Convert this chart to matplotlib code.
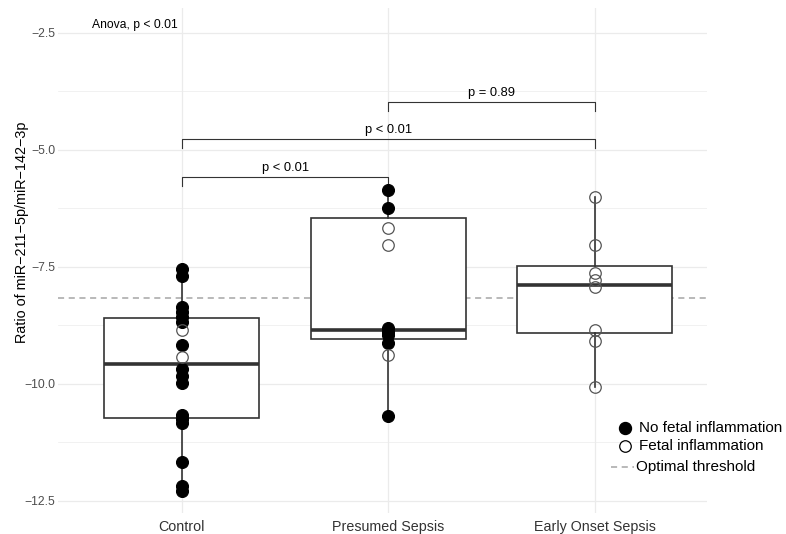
import matplotlib
matplotlib.use('Agg')
import matplotlib.pyplot as plt
from matplotlib.lines import Line2D

plt.rcParams['font.family'] = ['Liberation Sans', 'DejaVu Sans']

categories = ['Control', 'Presumed Sepsis', 'Early Onset Sepsis']

# individual points: filled = no fetal inflammation, open = fetal inflammation
control_no_fi = [-7.55, -7.70, -8.35, -8.46, -8.57, -8.67, -9.17, -9.67, -9.82,
                 -9.97, -10.66, -10.75, -10.84, -11.66, -12.19, -12.28]
control_fi = [-8.85, -9.42]
presumed_no_fi = [-5.85, -6.25, -8.81, -8.88, -8.95, -9.13, -10.68]
presumed_fi = [-6.67, -7.03, -9.37]
early_no_fi = []
early_fi = [-6.01, -7.04, -7.62, -7.78, -7.93, -8.85, -9.08, -10.06]

# box statistics
box_whislo = [-12.26, -10.68, -10.06]
box_q1 = [-10.73, -9.04, -8.92]
box_med = [-9.57, -8.85, -7.88]
box_q3 = [-8.60, -6.45, -7.48]
box_whishi = [-7.55, -5.85, -6.01]

threshold = -8.16

comparisons = [(1, 2, 'p < 0.01'), (1, 3, 'p < 0.01'), (2, 3, 'p = 0.89')]
bracket_y = [-5.58, -4.77, -3.97]
anova_label = 'Anova, p < 0.01'

y_ticks = [-12.5, -10.0, -7.5, -5.0, -2.5]
y_minor = [-11.25, -8.75, -6.25, -3.75]

W, H = 786, 534
fig = plt.figure(figsize=(W / 100, H / 100), dpi=100)
L, R, T, B = 58, 707, 8, 513
ax = fig.add_axes([L / W, 1 - B / H, (R - L) / W, (B - T) / H])

stats = []
for i in range(3):
    stats.append(dict(med=box_med[i], q1=box_q1[i], q3=box_q3[i],
                      whislo=box_whislo[i], whishi=box_whishi[i], fliers=[]))
ax.bxp(stats, positions=[1, 2, 3], widths=0.75, showcaps=False, patch_artist=True,
       manage_ticks=False,
       boxprops=dict(facecolor='white', edgecolor='#333333', lw=1.2),
       whiskerprops=dict(color='#333333', lw=1.2),
       medianprops=dict(color='#333333', lw=2.6), zorder=2)

ppu = 206.5
ax.set_xlim(0.4, 0.4 + (R - L) / ppu)
ax.set_ylim(-2.5 - (B - 33) / 46.8, -2.5 + (33 - T) / 46.8)

for s in ax.spines.values():
    s.set_visible(False)

ax.set_yticks(y_ticks)
ax.set_yticks(y_minor, minor=True)
ax.set_yticklabels([f'{v:.1f}'.replace('-', '\u2212') for v in y_ticks])
ax.set_xticks([1, 2, 3])
ax.set_xticklabels(categories)
ax.tick_params(axis='both', which='both', length=0)
ax.tick_params(axis='y', labelsize=8.8, labelcolor='#4D4D4D', pad=2)
ax.tick_params(axis='x', labelsize=10.3, labelcolor='#333333', pad=5)
ax.grid(True, which='major', color='#EBEBEB', lw=0.9)
ax.grid(True, which='minor', axis='y', color='#EBEBEB', lw=0.5)
ax.set_axisbelow(True)

ax.axhline(threshold, color='#A6A6A6', lw=1.1, ls=(0, (4, 3)), zorder=1.5)

groups_filled = [control_no_fi, presumed_no_fi, early_no_fi]
groups_open = [control_fi, presumed_fi, early_fi]
for i in range(3):
    if groups_filled[i]:
        ax.plot([i + 1] * len(groups_filled[i]), groups_filled[i], 'o', ms=8.6,
                mfc='black', mec='black', mew=0.8, zorder=4, ls='none')
    if groups_open[i]:
        ax.plot([i + 1] * len(groups_open[i]), groups_open[i], 'o', ms=8.3,
                mfc='none', mec='#555555', mew=0.9, zorder=4, ls='none')

tick_len = 0.19
for (a, b, lab), yb in zip(comparisons, bracket_y):
    ax.plot([a, a, b, b], [yb - tick_len, yb, yb, yb - tick_len], color='#333333', lw=0.8,
            zorder=3)
    ax.text((a + b) / 2, yb + 0.06, lab, ha='center', va='bottom', fontsize=9.3,
            color='black')

ax.text(0.565, -2.33, anova_label, ha='left', va='center', fontsize=8.7, color='black')

fig.text(22 / W, 1 - 232 / H, 'Ratio of miR\u2212211\u22125p/miR\u2212142\u22123p',
         rotation=90, ha='center', va='center', fontsize=10.4)


def fp(x, y):
    return x / W, 1 - y / H


fig.add_artist(Line2D([fp(625, 428)[0]], [fp(625, 428)[1]], marker='o', ms=8.6,
                      mfc='black', mec='black', ls='none'))
fig.add_artist(Line2D([fp(625, 446)[0]], [fp(625, 446)[1]], marker='o', ms=8.3,
                      mfc='none', mec='black', mew=0.9, ls='none'))
fig.add_artist(Line2D([fp(611, 467)[0], fp(634, 467)[0]], [fp(611, 467)[1]] * 2,
                      color='#A6A6A6', lw=1.1, ls=(0, (4, 3))))
fig.text(*fp(639, 428), 'No fetal inflammation', ha='left', va='center', fontsize=11)
fig.text(*fp(639, 446), 'Fetal inflammation', ha='left', va='center', fontsize=11)
fig.text(*fp(636, 467), 'Optimal threshold', ha='left', va='center', fontsize=11)

fig.savefig('out.png', dpi=100, facecolor='white')
